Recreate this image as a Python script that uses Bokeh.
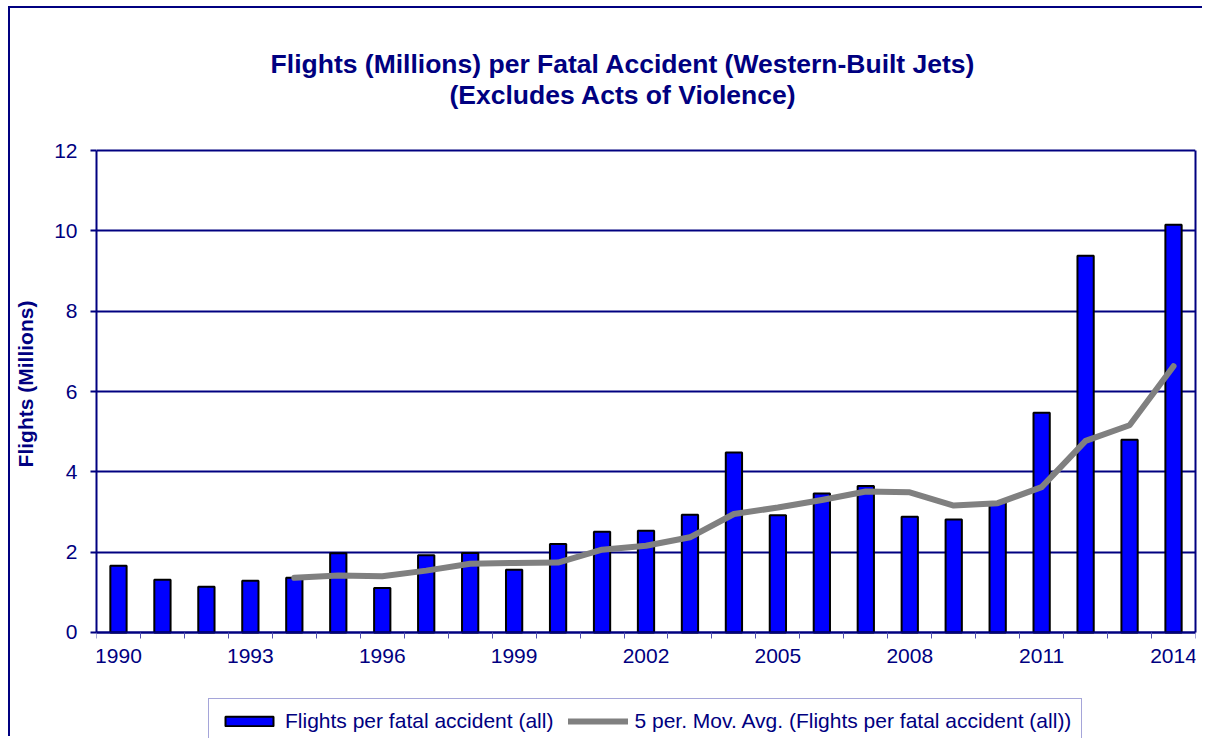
from bokeh.plotting import figure
from bokeh.models import FixedTicker, Legend, LegendItem, Range1d, LinearAxis, Label
from bokeh.embed import file_html
from bokeh.resources import INLINE

# ---- data ----
years = [1990, 1991, 1992, 1993, 1994, 1995, 1996, 1997, 1998, 1999, 2000, 2001, 2002,
         2003, 2004, 2005, 2006, 2007, 2008, 2009, 2010, 2011, 2012, 2013, 2014]
flights = [1.66, 1.31, 1.14, 1.29, 1.36, 1.97, 1.11, 1.92, 1.98, 1.56, 2.20, 2.51, 2.53,
           2.93, 4.48, 2.92, 3.46, 3.65, 2.88, 2.81, 3.25, 5.47, 9.38, 4.80, 10.15]
ma_years = [1994, 1995, 1996, 1997, 1998, 1999, 2000, 2001, 2002, 2003, 2004, 2005, 2006,
            2007, 2008, 2009, 2010, 2011, 2012, 2013, 2014]
ma_values = [1.36, 1.42, 1.40, 1.54, 1.71, 1.73, 1.74, 2.06, 2.16, 2.37, 2.95, 3.11, 3.30,
             3.51, 3.49, 3.16, 3.22, 3.62, 4.77, 5.16, 6.63]
label_years = [1990, 1993, 1996, 1999, 2002, 2005, 2008, 2011, 2014]
y_ticks = [0, 2, 4, 6, 8, 10, 12]

title_line1 = "Flights (Millions) per Fatal Accident (Western-Built Jets)"
title_line2 = "(Excludes Acts of Violence)"
y_label = "Flights (Millions)"
bar_label = "Flights per fatal accident (all)"
ma_label = "5 per. Mov. Avg. (Flights per fatal accident (all))"

NAVY = "#000080"
FONT = "Liberation Sans"

# ---- layout constants (pixels) ----
W, H = 1194, 730
PX_PER_Y = 40.14          # vertical pixels per unit
PX_PER_X = 43.96          # horizontal pixels per year
TOP_EXTRA = 142 / PX_PER_Y    # room above 12 for the titles
BOTTOM_EXTRA = 106 / PX_PER_Y  # room below 0 for year labels and legend
Y0, Y1 = 0, 12

p = figure(width=W, height=H, output_backend="svg", toolbar_location=None, title=None,
           x_range=Range1d(years[0] - 0.5, years[-1] + 0.5),
           y_range=Range1d(Y0 - BOTTOM_EXTRA, Y1 + TOP_EXTRA),
           min_border_left=86, min_border_right=9, min_border_top=0, min_border_bottom=0)
p.styles = {"border-left": "2px solid #000080", "border-top": "2px solid #000080",
            "margin-left": "8px", "margin-top": "6px"}
p.background_fill_color = "white"
p.border_fill_color = "white"
p.outline_line_color = None

bars = p.vbar(x=years, top=flights, width=0.37, fill_color="#0000FF",
              line_color="black", line_width=2)
line = p.line(x=ma_years, y=ma_values, line_color="#808080", line_width=6,
              line_cap="round", line_join="round")

# titles
title_x = years[0] - 0.5 + 526.5 / PX_PER_X
for txt, base_px in ((title_line1, 63), (title_line2, 94)):
    p.add_layout(Label(x=title_x, y=Y1 + (150 - base_px) / PX_PER_Y, text=txt,
                       text_align="center", text_baseline="alphabetic",
                       text_font=FONT, text_font_size="26.5px", text_font_style="bold",
                       text_color=NAVY))

# grid
p.xgrid.grid_line_color = None
p.ygrid.grid_line_color = NAVY
p.ygrid.grid_line_width = 2
p.ygrid.ticker = FixedTicker(ticks=y_ticks)

# y axis
p.yaxis.bounds = (Y0, Y1)
p.yaxis.ticker = FixedTicker(ticks=y_ticks)
p.yaxis.axis_line_color = NAVY
p.yaxis.axis_line_width = 2
p.yaxis.major_tick_line_color = NAVY
p.yaxis.major_tick_line_width = 2
p.yaxis.major_tick_out = 6
p.yaxis.major_tick_in = 0
p.yaxis.minor_tick_line_color = None
p.yaxis.major_label_text_font = FONT
p.yaxis.major_label_text_font_size = "21px"
p.yaxis.major_label_text_color = NAVY
p.yaxis.major_label_standoff = 13
p.yaxis.axis_label = y_label + "\u2003"   # em space keeps the label centred on 0-12
p.yaxis.axis_label_text_font = FONT
p.yaxis.axis_label_text_font_size = "21px"
p.yaxis.axis_label_text_font_style = "bold"
p.yaxis.axis_label_text_color = NAVY
p.yaxis.axis_label_standoff = 14

# right border of the plot area
right = LinearAxis(bounds=(Y0, Y1), ticker=FixedTicker(ticks=[]),
                   axis_line_color=NAVY, axis_line_width=2,
                   major_tick_line_color=None, minor_tick_line_color=None,
                   major_label_text_color=None)
p.add_layout(right, "right")

# x axis, pinned at 0
boundaries = [y - 0.5 for y in years] + [years[-1] + 0.5]
p.xaxis.fixed_location = 0
p.xaxis.ticker = FixedTicker(ticks=label_years, minor_ticks=boundaries)
p.xaxis.axis_line_color = NAVY
p.xaxis.axis_line_width = 2
p.xaxis.major_tick_out = 0
p.xaxis.major_tick_in = 0
p.xaxis.major_tick_line_color = None
p.xaxis.minor_tick_line_color = "#5050b0"
p.xaxis.minor_tick_line_width = 1
p.xaxis.minor_tick_out = 6
p.xaxis.minor_tick_in = 0
p.xaxis.major_label_text_font = FONT
p.xaxis.major_label_text_font_size = "21px"
p.xaxis.major_label_text_color = NAVY
p.xaxis.major_label_standoff = 11

legend = Legend(items=[LegendItem(label=bar_label, renderers=[bars]),
                       LegendItem(label=ma_label, renderers=[line])],
                orientation="horizontal", location=(112, -6),
                glyph_width=60, glyph_height=12, label_standoff=6, spacing=15,
                padding=10, margin=0,
                border_line_color="#4b4bb4", border_line_width=1,
                background_fill_color="white", background_fill_alpha=1,
                label_text_font=FONT, label_text_font_size="21px", label_text_color=NAVY)
p.add_layout(legend, "center")

open("out.html", "w").write(file_html(p, INLINE))
